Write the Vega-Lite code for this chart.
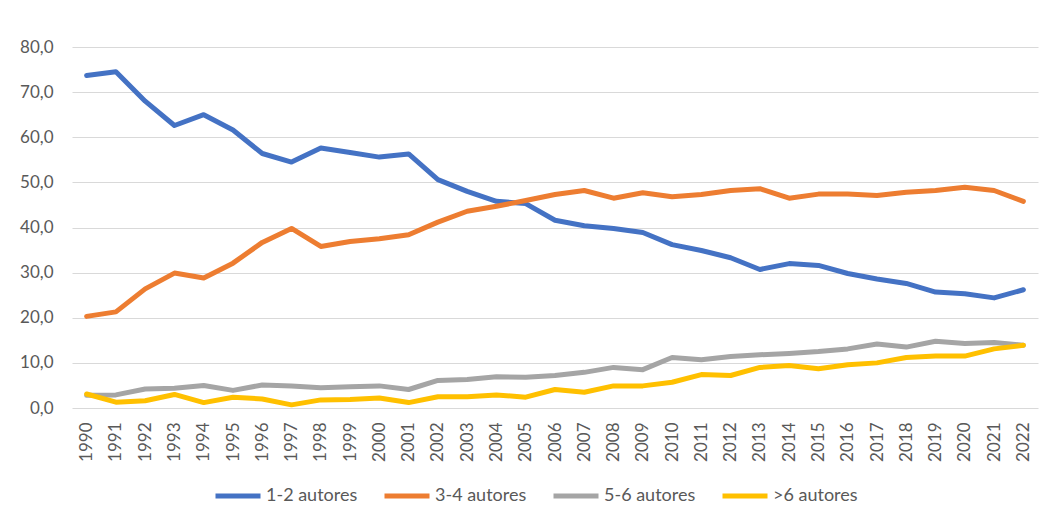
{
  "$schema": "https://vega.github.io/schema/vega-lite/v6.json",
  "autosize": {"type": "none"},
  "width": 966,
  "height": 361,
  "padding": {"left": 72, "top": 47, "right": 9, "bottom": 112},
  "background": "white",
  "data": {"values": [
    {"year": "1990", "1-2 autores": 73.7, "3-4 autores": 20.3, "5-6 autores": 2.8, ">6 autores": 3.1},
    {"year": "1991", "1-2 autores": 74.5, "3-4 autores": 21.3, "5-6 autores": 2.9, ">6 autores": 1.3},
    {"year": "1992", "1-2 autores": 68.0, "3-4 autores": 26.4, "5-6 autores": 4.2, ">6 autores": 1.6},
    {"year": "1993", "1-2 autores": 62.6, "3-4 autores": 29.9, "5-6 autores": 4.4, ">6 autores": 3.0},
    {"year": "1994", "1-2 autores": 65.0, "3-4 autores": 28.8, "5-6 autores": 5.0, ">6 autores": 1.2},
    {"year": "1995", "1-2 autores": 61.6, "3-4 autores": 32.1, "5-6 autores": 3.9, ">6 autores": 2.4},
    {"year": "1996", "1-2 autores": 56.4, "3-4 autores": 36.7, "5-6 autores": 5.1, ">6 autores": 2.0},
    {"year": "1997", "1-2 autores": 54.5, "3-4 autores": 39.8, "5-6 autores": 4.9, ">6 autores": 0.7},
    {"year": "1998", "1-2 autores": 57.6, "3-4 autores": 35.8, "5-6 autores": 4.5, ">6 autores": 1.8},
    {"year": "1999", "1-2 autores": 56.6, "3-4 autores": 36.9, "5-6 autores": 4.7, ">6 autores": 1.9},
    {"year": "2000", "1-2 autores": 55.6, "3-4 autores": 37.5, "5-6 autores": 4.9, ">6 autores": 2.2},
    {"year": "2001", "1-2 autores": 56.3, "3-4 autores": 38.4, "5-6 autores": 4.1, ">6 autores": 1.2},
    {"year": "2002", "1-2 autores": 50.6, "3-4 autores": 41.2, "5-6 autores": 6.1, ">6 autores": 2.5},
    {"year": "2003", "1-2 autores": 48.0, "3-4 autores": 43.6, "5-6 autores": 6.3, ">6 autores": 2.5},
    {"year": "2004", "1-2 autores": 45.8, "3-4 autores": 44.7, "5-6 autores": 6.9, ">6 autores": 2.9},
    {"year": "2005", "1-2 autores": 45.3, "3-4 autores": 46.0, "5-6 autores": 6.8, ">6 autores": 2.4},
    {"year": "2006", "1-2 autores": 41.6, "3-4 autores": 47.3, "5-6 autores": 7.2, ">6 autores": 4.1},
    {"year": "2007", "1-2 autores": 40.4, "3-4 autores": 48.2, "5-6 autores": 7.9, ">6 autores": 3.5},
    {"year": "2008", "1-2 autores": 39.8, "3-4 autores": 46.5, "5-6 autores": 9.0, ">6 autores": 4.9},
    {"year": "2009", "1-2 autores": 38.9, "3-4 autores": 47.7, "5-6 autores": 8.5, ">6 autores": 4.9},
    {"year": "2010", "1-2 autores": 36.2, "3-4 autores": 46.8, "5-6 autores": 11.2, ">6 autores": 5.7},
    {"year": "2011", "1-2 autores": 34.9, "3-4 autores": 47.3, "5-6 autores": 10.7, ">6 autores": 7.4},
    {"year": "2012", "1-2 autores": 33.3, "3-4 autores": 48.2, "5-6 autores": 11.4, ">6 autores": 7.2},
    {"year": "2013", "1-2 autores": 30.7, "3-4 autores": 48.6, "5-6 autores": 11.8, ">6 autores": 9.0},
    {"year": "2014", "1-2 autores": 32.0, "3-4 autores": 46.5, "5-6 autores": 12.1, ">6 autores": 9.4},
    {"year": "2015", "1-2 autores": 31.6, "3-4 autores": 47.4, "5-6 autores": 12.5, ">6 autores": 8.7},
    {"year": "2016", "1-2 autores": 29.8, "3-4 autores": 47.4, "5-6 autores": 13.1, ">6 autores": 9.6},
    {"year": "2017", "1-2 autores": 28.6, "3-4 autores": 47.1, "5-6 autores": 14.2, ">6 autores": 10.0},
    {"year": "2018", "1-2 autores": 27.6, "3-4 autores": 47.8, "5-6 autores": 13.5, ">6 autores": 11.2},
    {"year": "2019", "1-2 autores": 25.7, "3-4 autores": 48.2, "5-6 autores": 14.8, ">6 autores": 11.5},
    {"year": "2020", "1-2 autores": 25.3, "3-4 autores": 48.9, "5-6 autores": 14.3, ">6 autores": 11.5},
    {"year": "2021", "1-2 autores": 24.4, "3-4 autores": 48.2, "5-6 autores": 14.5, ">6 autores": 13.1},
    {"year": "2022", "1-2 autores": 26.2, "3-4 autores": 45.8, "5-6 autores": 13.9, ">6 autores": 13.9}
  ]},
  "transform": [
    {"fold": ["1-2 autores", "3-4 autores", "5-6 autores", ">6 autores"], "as": ["serie", "valor"]}
  ],
  "mark": {"type": "line", "strokeWidth": 5, "strokeCap": "round", "strokeJoin": "round"},
  "encoding": {
    "x": {
      "field": "year", "type": "ordinal",
      "scale": {"type": "point", "padding": 0.5},
      "axis": {
        "title": null, "labelAngle": -90, "ticks": false, "grid": false,
        "domain": false, "labelPadding": 14,
        "labelFont": "Lato", "labelFontSize": 17, "labelColor": "#595959"
      }
    },
    "y": {
      "field": "valor", "type": "quantitative",
      "scale": {"domain": [0, 80], "nice": false, "zero": true},
      "axis": {
        "title": null, "values": [0, 10, 20, 30, 40, 50, 60, 70, 80],
        "labelExpr": "replace(format(datum.value, '.1f'), '.', ',')",
        "ticks": false, "domain": false, "labelPadding": 19,
        "grid": true, "gridColor": "#d9d9d9", "gridWidth": 1.2,
        "labelFont": "Lato", "labelFontSize": 17, "labelColor": "#595959"
      }
    },
    "color": {
      "field": "serie", "type": "nominal",
      "sort": ["1-2 autores", "3-4 autores", "5-6 autores", ">6 autores"],
      "scale": {
        "domain": ["1-2 autores", "3-4 autores", "5-6 autores", ">6 autores"],
        "range": ["#4472C4", "#ED7D31", "#A5A5A5", "#FFC000"]
      },
      "legend": {
        "title": null, "orient": "none", "direction": "horizontal",
        "legendX": 141, "legendY": 424,
        "symbolType": "stroke", "symbolSize": 2025, "symbolStrokeWidth": 5,
        "labelFont": "Lato", "labelFontSize": 18, "labelColor": "#595959",
        "labelOffset": 3, "columnPadding": 16
      }
    }
  },
  "config": {"view": {"stroke": null}}
}
